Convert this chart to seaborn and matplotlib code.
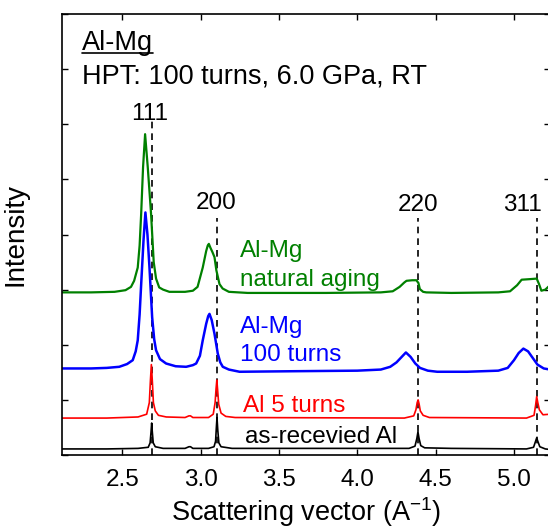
import numpy as np
import pandas as pd
import matplotlib
matplotlib.use("Agg")
import matplotlib.pyplot as plt
import seaborn as sns

# --- data (q in A^-1, intensity with vertical offsets) ---
q_ar = [2.11, 2.40, 2.60, 2.665, 2.677, 2.683, 2.687, 2.691, 2.697, 2.71, 2.76, 2.90, 2.925, 2.935,
        2.95, 3.05, 3.085, 3.095, 3.100, 3.104, 3.109, 3.116, 3.13, 3.20, 3.80, 4.33, 4.368, 4.380,
        4.387, 4.394, 4.405, 4.43, 4.60, 5.08, 5.125, 5.138, 5.145, 5.152, 5.165, 5.20, 5.23]
i_ar = [0.11, 0.11, 0.12, 0.14, 0.22, 0.42, 0.58, 0.42, 0.22, 0.15, 0.12, 0.12, 0.15, 0.15,
        0.12, 0.12, 0.15, 0.25, 0.50, 0.68, 0.45, 0.22, 0.15, 0.12, 0.12, 0.12, 0.16, 0.30,
        0.42, 0.30, 0.17, 0.13, 0.12, 0.11, 0.14, 0.25, 0.31, 0.25, 0.15, 0.11, 0.10]

q_r = [2.11, 2.40, 2.60, 2.655, 2.672, 2.679, 2.685, 2.691, 2.698, 2.71, 2.73, 2.78, 2.90, 2.925,
       2.935, 2.95, 3.05, 3.08, 3.092, 3.098, 3.103, 3.108, 3.115, 3.13, 3.16, 3.22, 4.30, 4.36,
       4.374, 4.382, 4.388, 4.394, 4.402, 4.42, 4.46, 5.08, 5.128, 5.138, 5.145, 5.152, 5.162,
       5.185, 5.23]
i_r = [0.67, 0.67, 0.69, 0.74, 0.95, 1.35, 1.64, 1.35, 0.95, 0.80, 0.72, 0.69, 0.68, 0.71,
       0.71, 0.68, 0.68, 0.74, 0.95, 1.20, 1.36, 1.18, 0.92, 0.76, 0.70, 0.68, 0.67, 0.71,
       0.82, 0.95, 1.00, 0.93, 0.80, 0.72, 0.68, 0.67, 0.72, 0.90, 1.06, 0.95, 0.82, 0.73, 0.74]

q_b = [2.11, 2.30, 2.40, 2.48, 2.53, 2.566, 2.585, 2.598, 2.610, 2.620, 2.635, 2.647, 2.660,
       2.673, 2.690, 2.703, 2.715, 2.740, 2.779, 2.84, 2.907, 2.95, 2.971, 2.995, 3.013, 3.035,
       3.048, 3.056, 3.070, 3.088, 3.109, 3.125, 3.141, 3.18, 3.248, 3.60, 4.00, 4.15, 4.21,
       4.25, 4.28, 4.31, 4.34, 4.37, 4.40, 4.45, 4.51, 4.70, 4.90, 4.96, 5.00, 5.03, 5.06, 5.09,
       5.12, 5.15, 5.19, 5.23]
i_b = [1.57, 1.57, 1.58, 1.60, 1.65, 1.72, 1.88, 2.08, 2.55, 3.10, 3.90, 4.40, 4.00,
       3.40, 2.50, 2.10, 1.90, 1.74, 1.66, 1.61, 1.60, 1.63, 1.66, 1.80, 2.08, 2.38,
       2.52, 2.56, 2.45, 2.20, 1.84, 1.68, 1.60, 1.55, 1.51, 1.52, 1.53, 1.55, 1.60,
       1.68, 1.77, 1.86, 1.78, 1.66, 1.58, 1.53, 1.51, 1.51, 1.53, 1.58, 1.72, 1.85, 1.93, 1.88,
       1.76, 1.64, 1.57, 1.55]

q_g = [2.11, 2.30, 2.45, 2.52, 2.555, 2.575, 2.598, 2.610, 2.620, 2.632, 2.645, 2.662, 2.683,
       2.700, 2.715, 2.735, 2.76, 2.80, 2.90, 2.95, 2.98, 3.013, 3.035, 3.045, 3.052, 3.062,
       3.075, 3.088, 3.10, 3.12, 3.14, 3.18, 3.30, 3.80, 4.15, 4.226, 4.27, 4.30, 4.314, 4.35,
       4.377, 4.390, 4.399, 4.42, 4.44, 4.60, 4.90, 4.975, 5.02, 5.049, 5.10, 5.145, 5.16,
       5.175, 5.20, 5.23]
i_g = [2.95, 2.95, 2.96, 2.99, 3.05, 3.16, 3.40, 3.80, 4.38, 5.22, 5.82, 5.22, 4.38,
       3.50, 3.20, 3.04, 3.00, 2.96, 2.96, 2.98, 3.05, 3.40, 3.70, 3.80, 3.83, 3.76,
       3.68, 3.59, 3.35, 3.10, 3.02, 2.96, 2.94, 2.94, 2.95, 2.97, 3.05, 3.13, 3.16, 3.17,
       3.17, 3.12, 3.01, 2.96, 2.95, 2.94, 2.95, 2.97, 3.08, 3.18, 3.19, 3.20, 3.10,
       2.98, 3.00, 3.08]

peak_labels = ["111", "200", "220", "311"]
peak_pos = [2.687, 3.103, 4.388, 5.145]
peak_label_x = [2.673, 3.101, 4.386, 5.051]
peak_label_y = [6.08, 4.47, 4.42, 4.42]
dash_top = [6.06, 4.30, 4.30, 4.30]

x_ticks = [2.5, 3.0, 3.5, 4.0, 4.5, 5.0]

sns.set_style("ticks")
plt.rcParams['font.family'] = ['Liberation Sans', 'DejaVu Sans']
plt.rcParams['mathtext.fontset'] = 'custom'
plt.rcParams['mathtext.rm'] = 'Liberation Sans'
plt.rcParams['mathtext.it'] = 'Liberation Sans:italic'
for key in ['text.color', 'axes.labelcolor', 'xtick.color', 'ytick.color', 'axes.edgecolor']:
    plt.rcParams[key] = 'black'

fig = plt.figure(figsize=(5.48, 5.28), dpi=100)
ax = fig.add_axes([62 / 548, 73 / 528, 488 / 548, 441 / 528])

curves = [(q_ar, i_ar, "black", 1.2), (q_r, i_r, "#ff0000", 1.2),
          (q_b, i_b, "#0000ff", 1.8), (q_g, i_g, "#008000", 1.6)]
for q, inten, col, lw in curves:
    df = pd.DataFrame({"q": q, "I": inten})
    sns.lineplot(data=df, x="q", y="I", color=col, lw=lw, ax=ax, sort=False)

for pos, top in zip(peak_pos, dash_top):
    ax.plot([pos, pos], [0, top], color="black", ls=(0, (4, 3)), lw=1.2, zorder=1)

for lab, x, y in zip(peak_labels, peak_label_x, peak_label_y):
    ax.text(x, y, lab, fontsize=17.5, ha="center", va="baseline")

t = ax.text(2.244, 7.34, "Al-Mg", fontsize=19.5, va="baseline")
ax.text(2.244, 6.745, "HPT: 100 turns, 6.0 GPa, RT", fontsize=19.5, va="baseline")

lab_fs = 17.5
ax.text(3.248, 3.60, "Al-Mg", color="#008000", fontsize=lab_fs, va="baseline")
ax.text(3.248, 3.07, "natural aging", color="#008000", fontsize=lab_fs, va="baseline")
ax.text(3.248, 2.22, "Al-Mg", color="#0000ff", fontsize=lab_fs, va="baseline")
ax.text(3.248, 1.70, "100 turns", color="#0000ff", fontsize=lab_fs, va="baseline")
ax.text(3.267, 0.78, "Al 5 turns", color="#ff0000", fontsize=lab_fs, va="baseline")
ax.text(3.28, 0.22, "as-recevied Al", color="black", fontsize=lab_fs, va="baseline")

ax.set_xlim(2.1145, 5.23)
ax.set_ylim(0, 8)
ax.set_xticks(x_ticks)
ax.set_xticklabels(["%.1f" % v for v in x_ticks])
ax.set_yticks(range(0, 9))
ax.set_yticklabels([])
ax.tick_params(direction="in", top=True, right=True, length=4, width=1, labelsize=17.5, pad=10)
ax.set_xlabel("Scattering vector (A$^{-1}$)", fontsize=19.5, labelpad=3)
ax.set_ylabel("Intensity", fontsize=20, labelpad=14)
for s in ax.spines.values():
    s.set_linewidth(1.2)
    s.set_color("black")

# underline for the "Al-Mg" heading
fig.canvas.draw()
bb = t.get_window_extent()
inv = ax.transData.inverted()
x0 = inv.transform((bb.x0, 0))[0]
x1 = inv.transform((bb.x1, 0))[0]
ax.plot([x0, x1], [7.29, 7.29], color="black", lw=1.2)

fig.savefig("out.png", dpi=100)
